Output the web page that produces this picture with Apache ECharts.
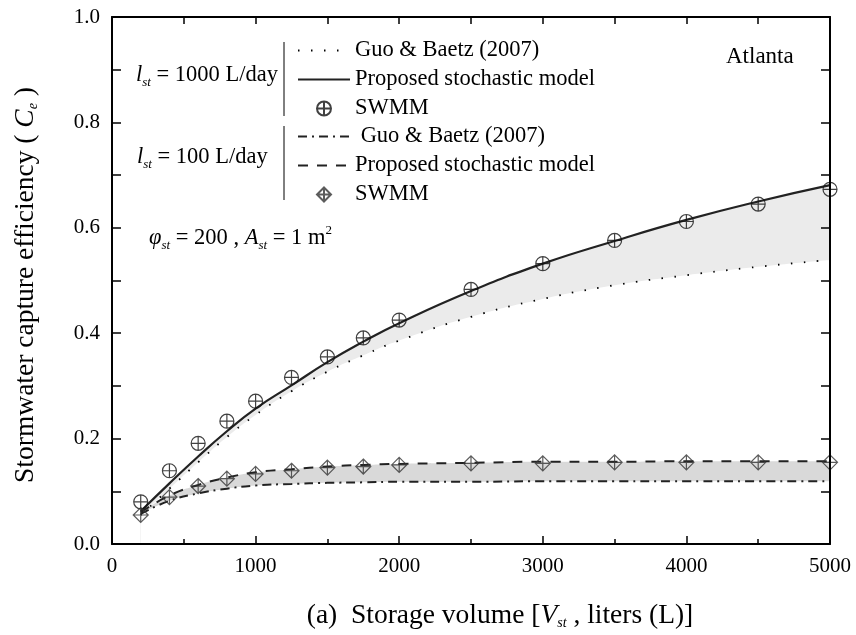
<!DOCTYPE html>
<html>
<head>
<meta charset="utf-8">
<script src="https://cdn.jsdelivr.net/npm/echarts@6/dist/echarts.min.js"></script>
<style>html,body{margin:0;padding:0;background:#fff;overflow:hidden}#c{width:856px;height:635px}</style>
</head>
<body>
<div id="c"></div>
<script>
// ---- data ----
const volumes = [200, 400, 600, 800, 1000, 1250, 1500, 1750, 2000, 2500, 3000, 3500, 4000, 4500, 5000];
// l_st = 1000 L/day
const guo1000      = [0.055, 0.105, 0.155, 0.203, 0.245, 0.290, 0.327, 0.358, 0.386, 0.431, 0.465, 0.491, 0.510, 0.526, 0.539];
const proposed1000 = [0.062, 0.115, 0.166, 0.214, 0.257, 0.301, 0.345, 0.384, 0.419, 0.480, 0.532, 0.575, 0.615, 0.650, 0.681];
const swmm1000     = [0.080, 0.139, 0.191, 0.233, 0.271, 0.316, 0.355, 0.391, 0.425, 0.483, 0.532, 0.576, 0.612, 0.645, 0.673];
// l_st = 100 L/day
const guo100       = [0.057, 0.082, 0.096, 0.105, 0.111, 0.114, 0.116, 0.117, 0.118, 0.118, 0.119, 0.119, 0.119, 0.119, 0.119];
const proposed100  = [0.060, 0.092, 0.112, 0.126, 0.136, 0.142, 0.147, 0.150, 0.152, 0.154, 0.156, 0.156, 0.157, 0.157, 0.157];
const swmm100      = [0.055, 0.089, 0.110, 0.124, 0.133, 0.139, 0.145, 0.147, 0.150, 0.153, 0.153, 0.155, 0.155, 0.155, 0.155];
const xTicks = [0, 1000, 2000, 3000, 4000, 5000];
const yTicks = [0.0, 0.2, 0.4, 0.6, 0.8, 1.0];

const pairs = (ys) => volumes.map((v, i) => [v, ys[i]]);

const FONT = 'Liberation Serif';
const circlePlus = 'path://M10,0 A10,10 0 1,1 9.99,0 Z M10,0 L10,20 M0,10 L20,10';
const diamondPlus = 'path://M10,0 L20,10 L10,20 L0,10 Z M10,0 L10,20 M0,10 L20,10';

const chart = echarts.init(document.getElementById('c'), null, {renderer: 'canvas', width: 856, height: 635});

const legendNames = {
  g1000: 'Guo & Baetz (2007)', p1000: 'Proposed stochastic model', s1000: 'SWMM',
  g100: ' Guo & Baetz (2007)', p100: 'Proposed stochastic model', s100: 'SWMM'
};
const noSym = {opacity: 0};

const TXT = 22.5;
const richLabel = {
  n: {fontFamily: FONT, fontSize: TXT, color: '#000', lineHeight: 28},
  i: {fontFamily: FONT, fontSize: TXT, fontStyle: 'italic', color: '#000', lineHeight: 28},
  s: {fontFamily: FONT, fontSize: 13, fontStyle: 'italic', color: '#000', verticalAlign: 'bottom', padding: [12, 0, 0, 0]},
  p: {fontFamily: FONT, fontSize: 13, color: '#000', verticalAlign: 'top', padding: [0, 0, 10, 0]}
};
const TITLE = 27.5;
const richTitle = {
  n: {fontFamily: FONT, fontSize: TITLE, color: '#000'},
  i: {fontFamily: FONT, fontSize: TITLE, fontStyle: 'italic', color: '#000'},
  s: {fontFamily: FONT, fontSize: 14, fontStyle: 'italic', color: '#000', verticalAlign: 'bottom', padding: [14, 0, 0, 0]}
};

const axisCommon = {
  z: 6,
  axisLine: {show: true, onZero: false, lineStyle: {color: '#000', width: 2}},
  splitLine: {show: false}
};

const option = {
  backgroundColor: '#fff',
  animation: false,
  grid: {left: 112, top: 17, width: 718, height: 534, containLabel: false},
  xAxis: [Object.assign({}, axisCommon, {
    type: 'value', min: 0, max: 5000, interval: 1000,
    name: '{n|(a)  Storage volume [}{i|V}{s|st}{n| , liters (L)]}',
    nameLocation: 'middle', nameGap: 58,
    nameTextStyle: {rich: richTitle, padding: [0, 0, 0, 58]},
    axisTick: {show: true, inside: true, length: 8, lineStyle: {color: '#000', width: 1.5}},
    minorTick: {show: true, splitNumber: 2, length: 5, lineStyle: {color: '#000', width: 1.5}},
    axisLabel: {fontFamily: FONT, fontSize: 21, color: '#000', margin: 12,
      formatter: v => xTicks.includes(v) ? String(v) : ''}
  }), Object.assign({}, axisCommon, {
    type: 'value', min: 0, max: 5000, interval: 500, position: 'top',
    axisTick: {show: true, inside: true, length: 7, lineStyle: {color: '#000', width: 1.5}},
    axisLabel: {show: false}
  })],
  yAxis: [Object.assign({}, axisCommon, {
    type: 'value', min: 0, max: 1, interval: 0.1,
    name: '{n|Stormwater capture efficiency ( }{i|C}{s|e}{n| )}',
    nameLocation: 'middle', nameGap: 72,
    nameTextStyle: {rich: richTitle, padding: [0, 9, 0, 0]},
    axisTick: {show: true, inside: true, length: 9, lineStyle: {color: '#000', width: 1.5}},
    axisLabel: {fontFamily: FONT, fontSize: 21, color: '#000', margin: 12,
      formatter: v => {
        const r = Math.round(v * 10) / 10;
        return yTicks.some(t => Math.abs(t - r) < 1e-9) ? r.toFixed(1) : '';
      }}
  }), Object.assign({}, axisCommon, {
    type: 'value', min: 0, max: 1, interval: 0.1, position: 'right',
    axisTick: {show: true, inside: true, length: 9, lineStyle: {color: '#000', width: 1.5}},
    axisLabel: {show: false}
  })],
  legend: [{
    left: 297, top: 39, orient: 'vertical', itemWidth: 52, itemHeight: 14, itemGap: 6,
    padding: 0, selectedMode: false, z: 10,
    data: [{name: 'g1000', itemStyle: noSym}, {name: 'p1000', itemStyle: noSym}, 's1000'],
    formatter: n => legendNames[n],
    textStyle: {fontFamily: FONT, fontSize: TXT, color: '#000', lineHeight: 16}
  }, {
    left: 297, top: 125, orient: 'vertical', itemWidth: 52, itemHeight: 14, itemGap: 6,
    padding: 0, selectedMode: false, z: 10,
    data: [{name: 'g100', itemStyle: noSym}, {name: 'p100', itemStyle: noSym}, 's100'],
    formatter: n => legendNames[n],
    textStyle: {fontFamily: FONT, fontSize: TXT, color: '#000', lineHeight: 16}
  }],
  series: [
    // shaded bands: upper curve filled grey, lower curve filled white over it
    {name: 'fillUp1000', type: 'line', data: pairs(proposed1000), smooth: true, symbol: 'none', silent: true, z: 1,
      lineStyle: {width: 0, opacity: 0}, areaStyle: {color: '#ebebeb', opacity: 1, origin: 'start'}},
    {name: 'fillLo1000', type: 'line', data: pairs(guo1000), smooth: true, symbol: 'none', silent: true, z: 1,
      lineStyle: {width: 0, opacity: 0}, areaStyle: {color: '#ffffff', opacity: 1, origin: 'start'}},
    {name: 'fillUp100', type: 'line', data: pairs(proposed100), smooth: true, symbol: 'none', silent: true, z: 1,
      lineStyle: {width: 0, opacity: 0}, areaStyle: {color: '#d9d9d9', opacity: 1, origin: 'start'}},
    {name: 'fillLo100', type: 'line', data: pairs(guo100), smooth: true, symbol: 'none', silent: true, z: 1,
      lineStyle: {width: 0, opacity: 0}, areaStyle: {color: '#ffffff', opacity: 1, origin: 'start'}},
    // lines
    {name: 'g1000', type: 'line', data: pairs(guo1000), smooth: true, symbol: 'none', z: 3,
      itemStyle: {color: '#000'}, lineStyle: {color: '#000', width: 1.8, type: [1.5, 11.5]}},
    {name: 'p1000', type: 'line', data: pairs(proposed1000), smooth: true, symbol: 'none', z: 3,
      itemStyle: {color: '#222'}, lineStyle: {color: '#222', width: 2.2, type: 'solid'}},
    {name: 's1000', type: 'scatter', data: pairs(swmm1000), symbol: circlePlus, symbolSize: 14, z: 4,
      itemStyle: {color: 'rgba(0,0,0,0)', borderColor: '#111', borderWidth: 1.2}},
    {name: 'g100', type: 'line', data: pairs(guo100), smooth: true, symbol: 'none', z: 3,
      itemStyle: {color: '#222'}, lineStyle: {color: '#222', width: 2, type: [9, 5, 2, 5]}},
    {name: 'p100', type: 'line', data: pairs(proposed100), smooth: true, symbol: 'none', z: 3,
      itemStyle: {color: '#222'}, lineStyle: {color: '#222', width: 2, type: [10, 9]}},
    {name: 's100', type: 'scatter', data: pairs(swmm100), symbol: diamondPlus, symbolSize: 15, z: 4,
      itemStyle: {color: 'rgba(0,0,0,0)', borderColor: '#333', borderWidth: 1.2}}
  ],
  graphic: [
    {type: 'line', z: 10, shape: {x1: 284, y1: 42, x2: 284, y2: 116}, style: {stroke: '#000', lineWidth: 1}},
    {type: 'line', z: 10, shape: {x1: 284, y1: 126, x2: 284, y2: 200}, style: {stroke: '#000', lineWidth: 1}},
    {type: 'text', z: 10, left: 136, top: 64, style: {text: '{i|l}{s|st}{n| = 1000 L/day}', rich: richLabel}},
    {type: 'text', z: 10, left: 137, top: 146, style: {text: '{i|l}{s|st}{n| = 100 L/day}', rich: richLabel}},
    {type: 'text', z: 10, left: 149, top: 224, style: {text: '{i|φ}{s|st}{n| = 200 , }{i|A}{s|st}{n| = 1 m}{p|2}', rich: richLabel}},
    {type: 'text', z: 10, left: 726, top: 45, style: {text: 'Atlanta', fontFamily: FONT, fontSize: 23, fill: '#000'}}
  ]
};
chart.setOption(option);
</script>
</body>
</html>
